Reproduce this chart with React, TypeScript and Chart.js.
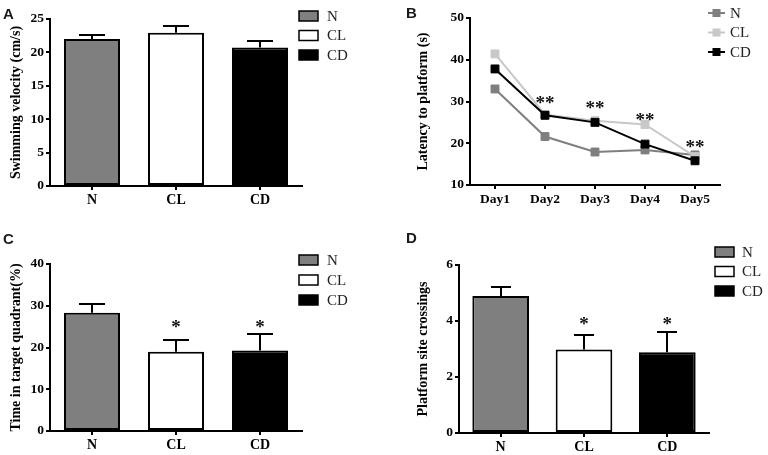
import React, { useEffect, useRef } from "react";
import { Chart, registerables } from "chart.js";

Chart.register(...registerables);

// ---------- data ----------
const groups = ["N", "CL", "CD"];
const groupFill = ["#7f7f7f", "#ffffff", "#000000"];

const velocityMean = [22.0, 22.95, 20.75];
const velocitySem = [0.55, 0.95, 0.95];

const days = ["Day1", "Day2", "Day3", "Day4", "Day5"];
const latencyN = [33.0, 21.6, 17.9, 18.4, 17.2];
const latencyCL = [41.4, 26.9, 25.4, 24.5, 16.8];
const latencyCD = [37.8, 26.7, 25.0, 19.8, 15.8];
const latencyStars = ["", "**", "**", "**", "**"];
const latencyStarLevel = [null, 30.4, 29.2, 26.3, 19.8];
const lineColors = ["#7f7f7f", "#c8c8c8", "#000000"];

const quadrantMean = [28.3, 19.0, 19.3];
const quadrantSem = [2.1, 2.8, 3.9];
const quadrantStars = ["", "*", "*"];
const quadrantStarLevel = [null, 25.6, 25.6];

const crossingsMean = [4.89, 2.98, 2.88];
const crossingsSem = [0.33, 0.51, 0.72];
const crossingsStars = ["", "*", "*"];
const crossingsStarLevel = [null, 4.0, 4.0];

// ---------- styling helpers ----------
const SERIF = '"Liberation Serif", "Times New Roman", serif';
const SANS = '"Liberation Sans", Arial, sans-serif';

function xAxis(height: number, fontSize: number) {
  return {
    type: "category",
    offset: true,
    grid: {
      display: true,
      drawOnChartArea: false,
      drawTicks: true,
      tickLength: 4,
      tickWidth: 2,
      tickColor: "#000",
      offset: false,
      color: "#000",
      lineWidth: 2,
    },
    border: { display: true, color: "#000", width: 2 },
    ticks: {
      color: "#000",
      font: { family: SERIF, size: fontSize, weight: "bold" },
      padding: 2,
      maxRotation: 0,
      autoSkip: false,
    },
    afterFit: (s: any) => {
      s.height = height;
    },
  };
}

function yAxis(min: number, max: number, step: number, title: string, width: number, titlePad: number) {
  return {
    type: "linear",
    min,
    max,
    grid: {
      display: true,
      drawOnChartArea: false,
      drawTicks: true,
      tickLength: 4,
      tickWidth: 2,
      tickColor: "#000",
      color: "#000",
      lineWidth: 2,
    },
    border: { display: true, color: "#000", width: 2 },
    ticks: {
      stepSize: step,
      color: "#000",
      font: { family: SERIF, size: 13.5, weight: "bold" },
      padding: 2,
    },
    title: {
      display: true,
      text: title,
      color: "#000",
      font: { family: SERIF, size: 14, weight: "bold" },
      padding: { top: titlePad, bottom: 0 },
    },
    afterFit: (s: any) => {
      s.width = width;
    },
  };
}

// ---------- plugins ----------
function errorBarPlugin(sem: number[], capHalf: number) {
  return {
    id: "errorBars",
    afterDatasetsDraw(chart: any) {
      const meta = chart.getDatasetMeta(0);
      const ys = chart.scales.y;
      const ctx = chart.ctx;
      const data = chart.data.datasets[0].data as number[];
      ctx.save();
      ctx.strokeStyle = "#000";
      ctx.lineWidth = 2;
      meta.data.forEach((bar: any, i: number) => {
        const x = Math.round(bar.x);
        const yTop = bar.y;
        const yErr = Math.round(ys.getPixelForValue(data[i] + sem[i]));
        ctx.beginPath();
        ctx.moveTo(x, yTop);
        ctx.lineTo(x, yErr);
        ctx.moveTo(x - capHalf, yErr);
        ctx.lineTo(x + capHalf, yErr);
        ctx.stroke();
      });
      ctx.restore();
    },
  };
}

function starsPlugin(labels: string[], levels: (number | null)[], size: number) {
  return {
    id: "stars",
    afterDatasetsDraw(chart: any) {
      const ctx = chart.ctx;
      const xs = chart.scales.x;
      const ys = chart.scales.y;
      ctx.save();
      ctx.fillStyle = "#111";
      ctx.font = `bold ${size}px ${SERIF}`;
      ctx.textAlign = "center";
      ctx.textBaseline = "alphabetic";
      labels.forEach((t, i) => {
        const v = levels[i];
        if (!t || v == null) return;
        const x = xs.getPixelForValue(i);
        const y = ys.getPixelForValue(v) + size * 0.48;
        ctx.fillText(t, x, y);
      });
      ctx.restore();
    },
  };
}

function boxLegendPlugin(labels: string[], fills: string[], x: number, yTop: number, gap: number, textX: number) {
  return {
    id: "boxLegend",
    afterDraw(chart: any) {
      const ctx = chart.ctx;
      ctx.save();
      labels.forEach((lab, i) => {
        const cy = yTop + i * gap;
        ctx.fillStyle = fills[i];
        ctx.fillRect(x, cy - 5, 19, 10);
        ctx.strokeStyle = "#000";
        ctx.lineWidth = 1.5;
        ctx.strokeRect(x, cy - 5, 19, 10);
        ctx.fillStyle = "#222";
        ctx.font = `15px ${SERIF}`;
        ctx.textAlign = "left";
        ctx.textBaseline = "middle";
        ctx.fillText(lab, textX, cy + 1);
      });
      ctx.restore();
    },
  };
}

function lineLegendPlugin(x: number, yTop: number, gap: number, textX: number) {
  return {
    id: "lineLegend",
    afterDraw(chart: any) {
      const ctx = chart.ctx;
      ctx.save();
      chart.data.datasets.forEach((ds: any, i: number) => {
        const cy = yTop + i * gap;
        ctx.strokeStyle = ds.borderColor;
        ctx.lineWidth = 2;
        ctx.beginPath();
        ctx.moveTo(x, cy);
        ctx.lineTo(x + 17, cy);
        ctx.stroke();
        ctx.fillStyle = ds.borderColor;
        ctx.fillRect(x + 4.5, cy - 4, 8, 8);
        ctx.fillStyle = "#222";
        ctx.font = `15px ${SERIF}`;
        ctx.textAlign = "left";
        ctx.textBaseline = "middle";
        ctx.fillText(ds.label, textX, cy + 1);
      });
      ctx.restore();
    },
  };
}

function letterPlugin(letter: string, x: number, baseline: number) {
  return {
    id: "panelLetter",
    afterDraw(chart: any) {
      const ctx = chart.ctx;
      ctx.save();
      ctx.fillStyle = "#1a1a1a";
      ctx.font = `bold 15px ${SANS}`;
      ctx.textAlign = "left";
      ctx.textBaseline = "alphabetic";
      ctx.fillText(letter, x, baseline);
      ctx.restore();
    },
  };
}

const baseOptions = {
  responsive: false,
  maintainAspectRatio: false,
  animation: false,
  devicePixelRatio: 1,
  events: [],
};

const STAR_SIZE = 19;

function barConfig(
  values: number[],
  sem: number[],
  yMin: number,
  yMax: number,
  step: number,
  title: string,
  letter: [string, number, number],
  padding: any,
  yWidth: number,
  titlePad: number,
  xHeight: number,
  capHalf: number,
  legend: [number, number, number, number],
  barPct: number,
  stars?: [string[], (number | null)[]]
) {
  const plugins: any[] = [
    errorBarPlugin(sem, capHalf),
    boxLegendPlugin(groups, groupFill, legend[0], legend[1], legend[2], legend[3]),
    letterPlugin(letter[0], letter[1], letter[2]),
  ];
  if (stars) plugins.push(starsPlugin(stars[0], stars[1], STAR_SIZE));
  return {
    type: "bar",
    data: {
      labels: groups,
      datasets: [
        {
          label: title,
          data: values,
          backgroundColor: groupFill,
          borderColor: "#000",
          borderWidth: 2,
          borderSkipped: false,
          barPercentage: barPct,
          categoryPercentage: 1,
        },
      ],
    },
    options: {
      ...baseOptions,
      layout: { padding },
      plugins: { legend: { display: false }, tooltip: { enabled: false } },
      scales: {
        x: xAxis(xHeight, 14),
        y: yAxis(yMin, yMax, step, title, yWidth, titlePad),
      },
    },
    plugins,
  };
}

function lineConfig() {
  const series = [
    { label: "N", data: latencyN, order: 2 },
    { label: "CL", data: latencyCL, order: 1 },
    { label: "CD", data: latencyCD, order: 0 },
  ];
  return {
    type: "line",
    data: {
      labels: days,
      datasets: series.map((s, i) => ({
        label: s.label,
        data: s.data,
        order: s.order,
        borderColor: lineColors[i],
        backgroundColor: lineColors[i],
        pointBackgroundColor: lineColors[i],
        pointBorderColor: lineColors[i],
        pointStyle: "rect",
        pointRadius: 5.6,
        pointBorderWidth: 1,
        borderWidth: 2,
        tension: 0,
        fill: false,
      })),
    },
    options: {
      ...baseOptions,
      layout: { padding: { top: 18, right: 48, left: 28, bottom: 0 } },
      plugins: { legend: { display: false }, tooltip: { enabled: false } },
      scales: {
        x: xAxis(42, 13.5),
        y: yAxis(10, 50, 10, "Latency to platform (s)", 58, 3),
      },
    },
    plugins: [
      starsPlugin(latencyStars, latencyStarLevel, STAR_SIZE),
      lineLegendPlugin(324, 13, 19.5, 346),
      letterPlugin("B", 22, 18),
    ],
  };
}

function Panel({ left, top, width, height, make }: { left: number; top: number; width: number; height: number; make: () => any }) {
  const ref = useRef<HTMLCanvasElement>(null);
  useEffect(() => {
    const chart = new Chart(ref.current as HTMLCanvasElement, make());
    return () => chart.destroy();
  }, []);
  return (
    <div style={{ position: "absolute", left, top, width, height }}>
      <canvas ref={ref} width={width} height={height} style={{ width, height, display: "block" }} />
    </div>
  );
}

export default function App() {
  return (
    <div style={{ position: "absolute", left: 0, top: 0, width: 768, height: 455, background: "#fff", overflow: "hidden" }}>
      <Panel
        left={0}
        top={0}
        width={384}
        height={227}
        make={() =>
          barConfig(
            velocityMean, velocitySem, 0, 25, 5, "Swimming velocity (cm/s)",
            ["A", 3, 18.5], { top: 19, right: 82, left: 0, bottom: 0 }, 50, 8, 41, 13,
            [299, 16, 19.5, 327], 0.667
          )
        }
      />
      <Panel left={384} top={0} width={384} height={227} make={lineConfig} />
      <Panel
        left={0}
        top={227}
        width={384}
        height={228}
        make={() =>
          barConfig(
            quadrantMean, quadrantSem, 0, 40, 10, "Time in target quadrant(%)",
            ["C", 3, 17], { top: 37, right: 82, left: 0, bottom: 0 }, 50, 8, 24, 13,
            [299, 33, 20, 327], 0.667, [quadrantStars, quadrantStarLevel]
          )
        }
      />
      <Panel
        left={384}
        top={227}
        width={384}
        height={228}
        make={() =>
          barConfig(
            crossingsMean, crossingsSem, 0, 6, 2, "Platform site crossings",
            ["D", 22, 16], { top: 38, right: 59, left: 28, bottom: 0 }, 47, 3, 22, 10,
            [331, 25, 19.5, 358], 0.68, [crossingsStars, crossingsStarLevel]
          )
        }
      />
    </div>
  );
}
